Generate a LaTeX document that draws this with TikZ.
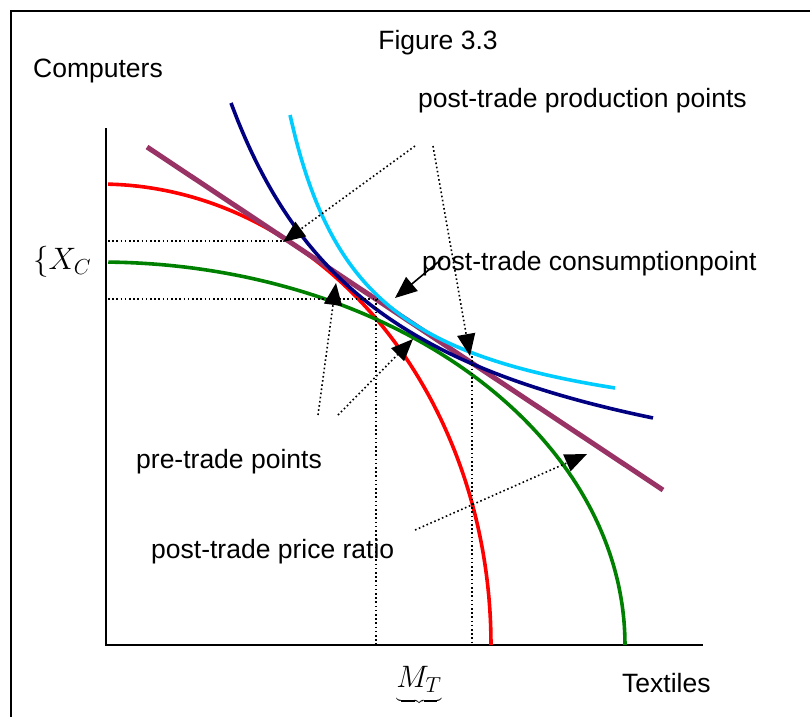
\RequirePackage{fix-cm}
\documentclass[tikz,border=0pt]{standalone}
\usepackage{fontspec}
\setmainfont{Liberation Sans}
\usetikzlibrary{arrows.meta}

\definecolor{ppfHomeRed}{RGB}{255,0,0}
\definecolor{ppfForeignGreen}{RGB}{0,128,0}
\definecolor{icNavy}{RGB}{0,0,128}
\definecolor{icSky}{RGB}{0,204,255}
\definecolor{priceLine}{RGB}{153,51,102}

\tikzset{
  lbl/.style={inner sep=0pt, font=\fontsize{26.5}{30}\selectfont},
  mathlbl/.style={inner sep=0pt, font=\fontsize{31}{36}\selectfont},
  curve/.style={line width=3.6pt},
  leader/.style={line width=1.6pt, dash pattern=on 1.6pt off 2.6pt,
    -{Triangle[length=22pt,width=18pt]}},
  guide/.style={line width=1.6pt, dash pattern=on 1.6pt off 2.6pt}
}

\begin{document}
\begin{tikzpicture}[x=1pt,y=-1pt]
% Figure 3.3 drawn in pixel units (origin top left, y grows down)
\useasboundingbox (0,0) rectangle (810,716);
\clip (0,0) rectangle (810,716);
% Outer frame, runs off the page at right and bottom
\draw[line width=2pt] (11,11) rectangle (840,760);
% Axes
\draw[line width=2pt] (106,128) -- (106,645) -- (703,645);
% Production possibility frontiers (quarter ellipses)
\draw[curve, ppfHomeRed] plot[domain=0:88.8, samples=60, smooth]
  ({100+391*cos(\x)}, {645-461*sin(\x)});
\draw[curve, ppfForeignGreen] plot[domain=0:89.1, samples=60, smooth]
  ({100+525*cos(\x)}, {645-383*sin(\x)});
% Post-trade price ratio
\draw[line width=5pt, priceLine] (147,147) -- (663,490);
% Indifference curves
\draw[curve, icNavy] plot[domain=231:653, samples=60, smooth]
  (\x, {538.5-703.4/((\x-69.5)/100)});
\draw[curve, icSky] plot[domain=290:615, samples=60, smooth]
  (\x, {451.3-253.58/((\x-214.6)/100)});
% Dotted guides to the axes
\draw[guide] (108,241) -- (283,241);
\draw[guide] (108,299) -- (377,299);
\draw[guide] (376,299) -- (376,645);
\draw[guide] (472,356) -- (472,645);
% Labels
\node[lbl] (fig) at (438,43) {Figure 3.3};
\node[lbl, anchor=west] (computers) at (33,71) {Computers};
\node[lbl, anchor=west] (prodpts) at (418,101) {post-trade production points};
\node[lbl, anchor=west] (conspt) at (422,264) {post-trade consumptionpoint};
\node[lbl, anchor=west] (pretrade) at (136,462) {pre-trade points};
\node[lbl, anchor=west] (ratio) at (151,552) {post-trade price ratio};
\node[lbl, anchor=west] (textiles) at (622,683) {Textiles};
\node[mathlbl, anchor=west] (xc) at (33,262) {$\{X_C$};
\node[mathlbl, anchor=north] (mt) at (419,666) {$M_T$};
\node[mathlbl, anchor=north] (mtbrace) at ([yshift=-5pt]mt.south) {$\underbrace{\hphantom{M_T}}$};
% Leader lines
\coordinate (prodA) at (415,146);
\coordinate (prodB) at (433,146);
\coordinate (prodHome) at (283,242);
\coordinate (prodForeign) at (470,356);
\coordinate (consFrom) at (443,258);
\coordinate (consTo) at (395,298);
\coordinate (preA) at (318,415);
\coordinate (preB) at (338,415);
\coordinate (preForeign) at (336,283);
\coordinate (preHome) at (413,339);
\coordinate (ratioFrom) at (415,530);
\coordinate (ratioTo) at (587,454);
\draw[leader] (prodA) -- (prodHome);
\draw[leader] (prodB) -- (prodForeign);
\draw[line width=1.6pt, -{Triangle[length=22pt,width=18pt]}] (consFrom) -- (consTo);
\draw[leader] (preA) -- (preForeign);
\draw[leader] (preB) -- (preHome);
\draw[leader] (ratioFrom) -- (ratioTo);
\end{tikzpicture}
\end{document}
